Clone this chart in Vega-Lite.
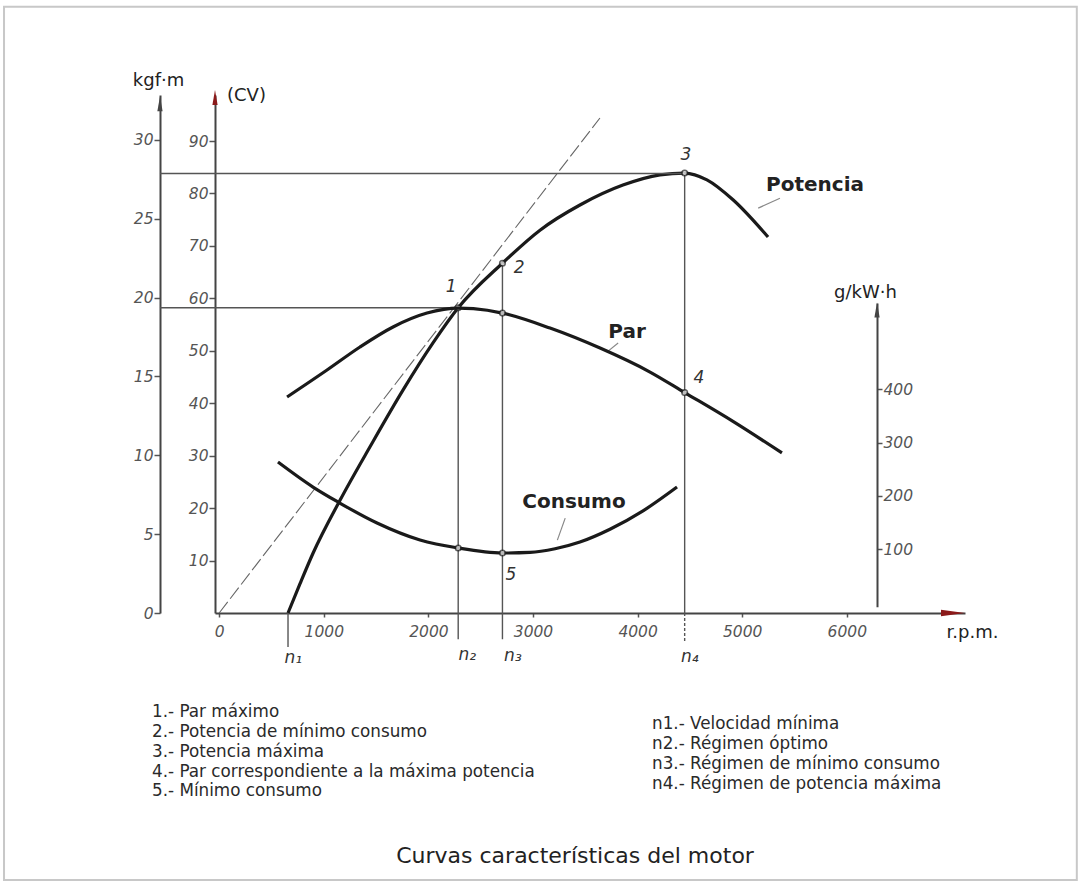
{
  "$schema": "https://vega.github.io/schema/vega-lite/v6.json",
  "width": 750,
  "height": 518,
  "autosize": {"type": "none"},
  "padding": {"left": 215, "top": 95, "right": 117, "bottom": 271},
  "background": "white",
  "config": {
    "view": {"stroke": null},
    "axis": {"grid": false, "labelFont": "DejaVu Sans", "titleFont": "DejaVu Sans", "labelFontStyle": "italic", "labelColor": "#555", "labelFontSize": 15.5, "domainColor": "#444", "domainWidth": 2, "tickColor": "#555", "tickWidth": 1.5, "titleFontWeight": "normal", "titleColor": "#222", "titleFontSize": 17, "labelOverlap": false, "labelFlush": false, "format": "d"}
  },
  "datasets": {
    "potencia": [
      {"rpm": 658, "cv": 0}, {"rpm": 773, "cv": 5.6}, {"rpm": 897, "cv": 11.4}, {"rpm": 1155, "cv": 21.5},
      {"rpm": 1442, "cv": 31.7}, {"rpm": 1757, "cv": 42.5}, {"rpm": 2044, "cv": 51.5}, {"rpm": 2285, "cv": 58.2},
      {"rpm": 2708, "cv": 66.7}, {"rpm": 3067, "cv": 73.0}, {"rpm": 3449, "cv": 77.8}, {"rpm": 3860, "cv": 81.6},
      {"rpm": 4214, "cv": 83.55}, {"rpm": 4450, "cv": 83.9}, {"rpm": 4663, "cv": 82.6}, {"rpm": 4912, "cv": 78.8},
      {"rpm": 5247, "cv": 71.7}
    ],
    "par": [
      {"rpm": 649, "kgfm": 13.7}, {"rpm": 1031, "kgfm": 15.41}, {"rpm": 1346, "kgfm": 16.87}, {"rpm": 1662, "kgfm": 18.14},
      {"rpm": 1987, "kgfm": 19.02}, {"rpm": 2285, "kgfm": 19.34}, {"rpm": 2430, "kgfm": 19.3}, {"rpm": 2708, "kgfm": 19.02},
      {"rpm": 3163, "kgfm": 18.07}, {"rpm": 3641, "kgfm": 16.8}, {"rpm": 4119, "kgfm": 15.28}, {"rpm": 4450, "kgfm": 13.98},
      {"rpm": 4912, "kgfm": 12.15}, {"rpm": 5380, "kgfm": 10.15}
    ],
    "consumo": [
      {"rpm": 562, "g": 263.6}, {"rpm": 897, "g": 216.7}, {"rpm": 1136, "g": 188.6}, {"rpm": 1509, "g": 149.2},
      {"rpm": 1920, "g": 117.3}, {"rpm": 2285, "g": 102.3}, {"rpm": 2708, "g": 92.9}, {"rpm": 2972, "g": 94.0},
      {"rpm": 3211, "g": 100.9}, {"rpm": 3449, "g": 113.5}, {"rpm": 3736, "g": 137.5}, {"rpm": 4052, "g": 172.0},
      {"rpm": 4377, "g": 216.7}
    ],
    "potenciaPts": [{"rpm": 2285, "cv": 58.2}, {"rpm": 2708, "cv": 66.7}, {"rpm": 4450, "cv": 83.9}],
    "parPts": [{"rpm": 2708, "kgfm": 19.02}, {"rpm": 4450, "kgfm": 13.98}],
    "consumoPts": [{"rpm": 2285, "g": 102.3}, {"rpm": 2708, "g": 92.9}],
    "guides": [
      {"x": -566, "x2": 2285, "y": 58.2, "y2": 58.2},
      {"x": -566, "x2": 4450, "y": 83.8, "y2": 83.8},
      {"x": 658, "x2": 658, "y": 0, "y2": -6.5},
      {"x": 2285, "x2": 2285, "y": 58.2, "y2": -5},
      {"x": 2708, "x2": 2708, "y": 66.7, "y2": -5},
      {"x": 4450, "x2": 4450, "y": 83.8, "y2": 0}
    ],
    "dashedGuides": [{"x": 4450, "x2": 4450, "y": 0, "y2": -5.5}],
    "diagonal": [{"x": 0, "x2": 3640, "y": 0, "y2": 94.4}],
    "leaders": [
      {"x": 5153, "x2": 5361, "y": 77.2, "y2": 79.1},
      {"x": 3709, "x2": 3814, "y": 49.8, "y2": 51.5},
      {"x": 3233, "x2": 3308, "y": 13.9, "y2": 18.1}
    ],
    "curveNames": [
      {"name": "Potencia", "rpm": 5696, "cv": 81.6},
      {"name": "Par", "rpm": 3899, "cv": 53.6},
      {"name": "Consumo", "rpm": 3392, "cv": 21.2}
    ],
    "pointNames": [
      {"name": "1", "rpm": 2218, "cv": 62.2},
      {"name": "2", "rpm": 2868, "cv": 65.8},
      {"name": "3", "rpm": 4463, "cv": 87.3},
      {"name": "4", "rpm": 4587, "cv": 44.8},
      {"name": "5", "rpm": 2790, "cv": 7.2},
      {"name": "n₁", "rpm": 708, "cv": -8.6},
      {"name": "n₂", "rpm": 2372, "cv": -8.0},
      {"name": "n₃", "rpm": 2808, "cv": -8.2},
      {"name": "n₄", "rpm": 4500, "cv": -8.3}
    ],
    "notes": [
      {"note": "1.- Par máximo\n2.- Potencia de mínimo consumo\n3.- Potencia máxima\n4.- Par correspondiente a la máxima potencia\n5.- Mínimo consumo", "rpm": -642, "cv": -17.4},
      {"note": "n1.- Velocidad mínima\nn2.- Régimen óptimo\nn3.- Régimen de mínimo consumo\nn4.- Régimen de potencia máxima", "rpm": 4138, "cv": -19.7}
    ],
    "caption": [{"note": "Curvas características del motor", "rpm": 3402, "cv": -46.3}],
    "redArrows": [{"rpm": 7015, "cv": 0, "dir": "right"}, {"rpm": -40, "cv": 98.3, "dir": "up"}],
    "grayArrows": [{"rpm": -566, "cv": 97.1}, {"rpm": 6289, "cv": 57.8}]
  },
  "resolve": {"scale": {"y": "independent"}, "axis": {"y": "independent"}},
  "layer": [
    {
      "layer": [
        {
          "data": {"name": "potencia"},
          "mark": {"type": "line", "interpolate": "monotone", "color": "#1a1a1a", "strokeWidth": 3.2},
          "encoding": {
            "x": {
              "field": "rpm", "type": "quantitative",
              "scale": {"domain": [-40, 7130], "nice": false, "zero": false},
              "axis": {"values": [0, 1000, 2000, 3000, 4000, 5000, 6000], "format": "d", "tickSize": 4, "labelPadding": 7, "title": "r.p.m.", "titleX": 757, "titleY": 19, "titleAlign": "center", "titleBaseline": "middle", "titleFontSize": 18}
            },
            "y": {
              "field": "cv", "type": "quantitative",
              "scale": {"domain": [0, 98.78], "nice": false, "zero": false},
              "axis": {"orient": "left", "offset": 0, "values": [10, 20, 30, 40, 50, 60, 70, 80, 90], "format": "d", "tickSize": 6, "labelPadding": 1, "title": "(CV)", "titleAngle": 0, "titleX": 31, "titleY": 0, "titleAlign": "center", "titleBaseline": "middle", "titleFontSize": 18}
            }
          }
        },
        {
          "data": {"values": [{}]},
          "mark": {"type": "rect", "fill": null, "stroke": "#c8c8c8", "strokeWidth": 2},
          "encoding": {
            "x": {"datum": -2057, "type": "quantitative"},
            "x2": {"datum": 8199},
            "y": {"datum": 115.6, "type": "quantitative"},
            "y2": {"datum": -50.9}
          }
        },
        {
          "data": {"name": "guides"},
          "mark": {"type": "rule", "color": "#555", "strokeWidth": 1.4},
          "encoding": {
            "x": {"field": "x", "type": "quantitative"}, "x2": {"field": "x2"},
            "y": {"field": "y", "type": "quantitative"}, "y2": {"field": "y2"}
          }
        },
        {
          "data": {"name": "dashedGuides"},
          "mark": {"type": "rule", "color": "#555", "strokeWidth": 1.4, "strokeDash": [3, 2]},
          "encoding": {
            "x": {"field": "x", "type": "quantitative"}, "x2": {"field": "x2"},
            "y": {"field": "y", "type": "quantitative"}, "y2": {"field": "y2"}
          }
        },
        {
          "data": {"name": "diagonal"},
          "mark": {"type": "rule", "color": "#666", "strokeWidth": 1.1, "strokeDash": [14, 4]},
          "encoding": {
            "x": {"field": "x", "type": "quantitative"}, "x2": {"field": "x2"},
            "y": {"field": "y", "type": "quantitative"}, "y2": {"field": "y2"}
          }
        },
        {
          "data": {"name": "leaders"},
          "mark": {"type": "rule", "color": "#888", "strokeWidth": 1.2},
          "encoding": {
            "x": {"field": "x", "type": "quantitative"}, "x2": {"field": "x2"},
            "y": {"field": "y", "type": "quantitative"}, "y2": {"field": "y2"}
          }
        },
        {
          "data": {"name": "potenciaPts"},
          "mark": {"type": "point", "shape": "circle", "filled": true, "fill": "white", "stroke": "#222", "strokeWidth": 1.5, "size": 32},
          "encoding": {
            "x": {"field": "rpm", "type": "quantitative"},
            "y": {"field": "cv", "type": "quantitative"}
          }
        },
        {
          "data": {"name": "curveNames"},
          "mark": {"type": "text", "font": "DejaVu Sans", "fontWeight": "bold", "fontSize": 20, "color": "#222", "align": "center", "baseline": "middle"},
          "encoding": {
            "x": {"field": "rpm", "type": "quantitative"},
            "y": {"field": "cv", "type": "quantitative"},
            "text": {"field": "name"}
          }
        },
        {
          "data": {"name": "pointNames"},
          "mark": {"type": "text", "font": "DejaVu Sans", "fontStyle": "italic", "fontSize": 17, "color": "#333", "align": "center", "baseline": "middle"},
          "encoding": {
            "x": {"field": "rpm", "type": "quantitative"},
            "y": {"field": "cv", "type": "quantitative"},
            "text": {"field": "name"}
          }
        },
        {
          "data": {"name": "notes"},
          "mark": {"type": "text", "font": "DejaVu Sans", "fontSize": 16.8, "color": "#2a2a2a", "align": "left", "baseline": "top", "lineBreak": "\n", "lineHeight": 19.8},
          "encoding": {
            "x": {"field": "rpm", "type": "quantitative"},
            "y": {"field": "cv", "type": "quantitative"},
            "text": {"field": "note"}
          }
        },
        {
          "data": {"name": "caption"},
          "mark": {"type": "text", "font": "DejaVu Sans", "fontSize": 22, "color": "#222", "align": "center", "baseline": "middle"},
          "encoding": {
            "x": {"field": "rpm", "type": "quantitative"},
            "y": {"field": "cv", "type": "quantitative"},
            "text": {"field": "note"}
          }
        },
        {
          "data": {"name": "redArrows"},
          "transform": [{"filter": "datum.dir === 'right'"}],
          "mark": {"type": "point", "shape": "M-1,-0.28L1,0L-1,0.28Z", "filled": true, "color": "#8b1a1a", "opacity": 1, "size": 576},
          "encoding": {
            "x": {"field": "rpm", "type": "quantitative"},
            "y": {"field": "cv", "type": "quantitative"}
          }
        },
        {
          "data": {"name": "redArrows"},
          "transform": [{"filter": "datum.dir === 'up'"}],
          "mark": {"type": "point", "shape": "M-0.35,1L0,-1L0.35,1Z", "filled": true, "color": "#8b1a1a", "opacity": 1, "size": 225},
          "encoding": {
            "x": {"field": "rpm", "type": "quantitative"},
            "y": {"field": "cv", "type": "quantitative"}
          }
        },
        {
          "data": {"name": "grayArrows"},
          "mark": {"type": "point", "shape": "M-0.35,1L0,-1L0.35,1Z", "filled": true, "color": "#444", "opacity": 1, "size": 225},
          "encoding": {
            "x": {"field": "rpm", "type": "quantitative"},
            "y": {"field": "cv", "type": "quantitative"}
          }
        }
      ]
    },
    {
      "layer": [
        {
          "data": {"name": "par"},
          "mark": {"type": "line", "interpolate": "monotone", "color": "#1a1a1a", "strokeWidth": 3.2},
          "encoding": {
            "x": {"field": "rpm", "type": "quantitative"},
            "y": {
              "field": "kgfm", "type": "quantitative",
              "scale": {"domain": [0, 32.85], "nice": false, "zero": false},
              "axis": {"orient": "left", "offset": 55, "values": [0, 5, 10, 15, 20, 25, 30], "format": "d", "tickSize": 6, "labelPadding": 1, "title": "kgf·m", "titleAngle": 0, "titleX": -2, "titleY": -15, "titleAlign": "center", "titleBaseline": "middle", "titleFontSize": 18}
            }
          }
        },
        {
          "data": {"name": "parPts"},
          "mark": {"type": "point", "shape": "circle", "filled": true, "fill": "white", "stroke": "#222", "strokeWidth": 1.5, "size": 32},
          "encoding": {
            "x": {"field": "rpm", "type": "quantitative"},
            "y": {"field": "kgfm", "type": "quantitative"}
          }
        }
      ]
    },
    {
      "layer": [
        {
          "data": {"name": "consumo"},
          "mark": {"type": "line", "interpolate": "monotone", "color": "#1a1a1a", "strokeWidth": 3.2},
          "encoding": {
            "x": {"field": "rpm", "type": "quantitative"},
            "y": {
              "field": "g", "type": "quantitative",
              "scale": {"domain": [-8, 562], "range": [511.8, 208], "nice": false, "zero": false},
              "axis": {"orient": "right", "offset": -88, "values": [100, 200, 300, 400], "format": "d", "tickSize": 5, "labelPadding": 1, "title": "g/kW·h", "titleAngle": 0, "titleX": -12, "titleY": 197, "titleAlign": "center", "titleBaseline": "middle", "titleFontSize": 18}
            }
          }
        },
        {
          "data": {"name": "consumoPts"},
          "mark": {"type": "point", "shape": "circle", "filled": true, "fill": "white", "stroke": "#222", "strokeWidth": 1.5, "size": 32},
          "encoding": {
            "x": {"field": "rpm", "type": "quantitative"},
            "y": {"field": "g", "type": "quantitative"}
          }
        }
      ]
    }
  ]
}
